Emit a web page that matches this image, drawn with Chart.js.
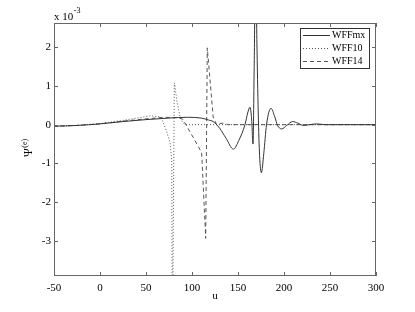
<!DOCTYPE html>
<html>
<head>
<meta charset="utf-8">
<script src="https://cdn.jsdelivr.net/npm/chart.js@4/dist/chart.umd.min.js"></script>
<style>
  html, body { margin: 0; padding: 0; background: #fff; }
  #wrap { width: 415px; height: 312px; }
</style>
</head>
<body>
<div id="wrap"><canvas id="grafico" width="415" height="312"></canvas></div>
<script>
// tick labels
var xTicks = [-50, 0, 50, 100, 150, 200, 250, 300];
var yTicks = [-3, -2, -1, 0, 1, 2];

// WFFmx (valores em 1e-3)
var xMx = [-50, -25, 0, 25, 50, 75, 95, 110, 118, 123, 130, 137, 145, 151, 157.6, 160.5, 163, 164.8, 166.3, 167.6, 169.2, 170.5, 172, 173.5, 175.4, 178, 181, 185.9, 190, 193, 197.5, 203, 209.4, 215, 221, 228, 235.5, 245, 300];
var yMx = [-0.04, -0.02, 0.02, 0.08, 0.13, 0.17, 0.19, 0.17, 0.12, 0.08, -0.09, -0.35, -0.63, -0.4, 0, 0.3, 0.45, 0.15, -0.5, 1.5, 4.4, 2.2, 0.3, -0.8, -1.24, -0.75, 0, 0.42, 0.2, -0.02, -0.11, -0.02, 0.08, 0.04, -0.02, 0, 0.02, 0, 0];

// WFF10
var x10 = [-50, -25, 0, 25, 40, 55, 65, 68, 72, 76, 78, 78.6, 80.8, 84, 87, 90, 93, 300];
var y10 = [-0.04, -0.02, 0.03, 0.11, 0.17, 0.23, 0.2, 0.1, -0.15, -0.45, -0.9, -6, 1.08, 0.55, 0.2, 0.05, 0, 0];

// WFF14
var x14 = [-50, -25, 0, 25, 50, 70, 85, 90, 103, 110.5, 114.9, 116.6, 123, 126.8, 133, 140, 300];
var y14 = [-0.04, -0.02, 0.02, 0.09, 0.15, 0.19, 0.18, 0.14, -0.4, -0.72, -2.93, 1.98, 0.2, 0, 0.04, 0, 0];

var fonte = '"Liberation Serif", "Times New Roman", serif';

function pares(xs, ys) {
    return xs.map(function(x, i) { return { x: x, y: ys[i] }; });
}

// moldura, ticks para dentro, legenda e rotulos extras
var moldura = {
    id: 'moldura',
    afterDraw: function(chart) {
        var ctx = chart.ctx;
        var a = chart.chartArea;
        var sx = chart.scales.x, sy = chart.scales.y;
        ctx.save();
        ctx.strokeStyle = '#666';
        ctx.lineWidth = 1;
        ctx.strokeRect(a.left + 0.5, a.top + 0.5, a.right - a.left - 1, a.bottom - a.top - 1);
        ctx.beginPath();
        xTicks.forEach(function(v) {
            var p = Math.round(sx.getPixelForValue(v)) + 0.5;
            ctx.moveTo(p, a.bottom); ctx.lineTo(p, a.bottom - 4);
            ctx.moveTo(p, a.top); ctx.lineTo(p, a.top + 4);
        });
        yTicks.forEach(function(v) {
            var p = Math.round(sy.getPixelForValue(v)) + 0.5;
            ctx.moveTo(a.left, p); ctx.lineTo(a.left + 4, p);
            ctx.moveTo(a.right, p); ctx.lineTo(a.right - 4, p);
        });
        ctx.stroke();

        // x 10^-3
        ctx.fillStyle = '#000';
        ctx.textBaseline = 'alphabetic';
        ctx.textAlign = 'left';
        ctx.font = '11px ' + fonte;
        ctx.fillText('x 10', a.left, 20);
        var w = ctx.measureText('x 10').width;
        ctx.font = '8px ' + fonte;
        ctx.fillText('-3', a.left + w + 0.5, 13);

        // rotulo y
        ctx.save();
        ctx.translate(32, 157);
        ctx.rotate(-Math.PI / 2);
        ctx.font = '12px ' + fonte;
        ctx.fillText('\u03A8', 0, 0);
        var wp = ctx.measureText('\u03A8').width;
        ctx.font = '8px ' + fonte;
        ctx.fillText('(e)', wp + 0.5, -5);
        ctx.restore();

        // legenda
        var lx = 300, ly = 28, lw = 69, lh = 40;
        ctx.fillStyle = '#fff';
        ctx.fillRect(lx, ly, lw, lh);
        ctx.strokeStyle = '#333';
        ctx.strokeRect(lx + 0.5, ly + 0.5, lw, lh);
        chart.data.datasets.forEach(function(ds, i) {
            var y = ly + 6.5 + i * 13.3;
            ctx.beginPath();
            ctx.setLineDash(ds.borderDash || []);
            ctx.strokeStyle = ds.borderColor;
            ctx.lineWidth = ds.borderWidth;
            ctx.moveTo(lx + 3, Math.round(y) + 0.5);
            ctx.lineTo(lx + 30, Math.round(y) + 0.5);
            ctx.stroke();
            ctx.setLineDash([]);
            ctx.fillStyle = '#000';
            ctx.font = '10px ' + fonte;
            ctx.textBaseline = 'middle';
            ctx.fillText(ds.label, lx + 32, y + 0.5);
        });
        ctx.restore();
    }
};

new Chart(document.getElementById('grafico').getContext('2d'), {
    type: 'line',
    data: {
        datasets: [{
            label: 'WFFmx',
            data: pares(xMx, yMx),
            borderColor: '#333',
            borderWidth: 1,
            cubicInterpolationMode: 'monotone',
            pointRadius: 0
        }, {
            label: 'WFF10',
            data: pares(x10, y10),
            borderColor: '#555',
            borderWidth: 1,
            borderDash: [1, 2],
            tension: 0,
            pointRadius: 0
        }, {
            label: 'WFF14',
            data: pares(x14, y14),
            borderColor: '#555',
            borderWidth: 1,
            borderDash: [4, 3],
            tension: 0,
            pointRadius: 0
        }]
    },
    options: {
        responsive: false,
        animation: false,
        events: [],
        layout: { padding: { left: 0, top: 23, right: 39, bottom: 9 } },
        plugins: { legend: { display: false }, tooltip: { enabled: false } },
        scales: {
            x: {
                type: 'linear',
                min: -50,
                max: 300,
                grid: { display: false, drawTicks: false },
                border: { display: false },
                afterBuildTicks: function(s) { s.ticks = xTicks.map(function(v) { return { value: v }; }); },
                afterFit: function(s) { s.height = 27; },
                ticks: { color: '#000', padding: 6, maxRotation: 0, font: { family: fonte, size: 11 } },
                title: { display: true, text: 'u', color: '#000', padding: 0, font: { family: fonte, size: 11 } }
            },
            y: {
                type: 'linear',
                min: -3.9,
                max: 2.62,
                grid: { display: false, drawTicks: false },
                border: { display: false },
                afterBuildTicks: function(s) { s.ticks = yTicks.map(function(v) { return { value: v }; }); },
                afterFit: function(s) { s.width = 54; },
                ticks: { color: '#000', padding: 3, font: { family: fonte, size: 11 } }
            }
        }
    },
    plugins: [moldura]
});
</script>
</body>
</html>
